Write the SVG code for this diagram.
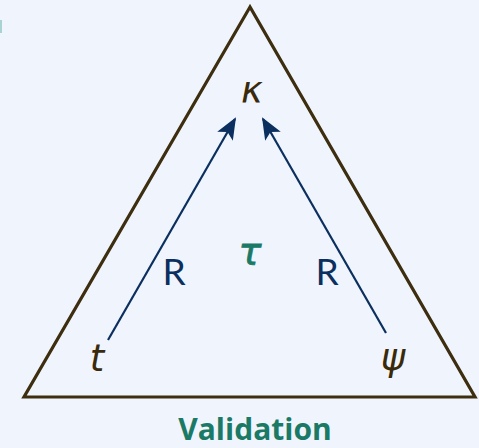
<svg xmlns="http://www.w3.org/2000/svg" width="479" height="448" viewBox="0 0 479 448">
<defs>
<style>
.edge{stroke:#0b2f5e;stroke-width:2.2;fill:none;marker-end:url(#ah)}
.var{font-family:"DejaVu Sans","Noto Sans",sans-serif;font-style:italic;font-size:37px;fill:#3a2a0c;text-anchor:middle}
.rel{font-family:Lato,"Open Sans",sans-serif;font-size:37px;fill:#0b2f5e;text-anchor:middle}
</style>
<marker id="ah" viewBox="0 0 22 18" refX="20" refY="9" markerWidth="22" markerHeight="18" markerUnits="userSpaceOnUse" orient="auto">
<path d="M0,0 L22,9 L0,18 L5,9 Z" fill="#0b2f5e"/>
</marker>
</defs>
<rect width="479" height="448" fill="#f0f5fd"/>
<rect x="0" y="20" width="2" height="13" fill="#a9d3d3"/>
<g id="triangle">
<polygon points="250,7 24,397 475,397" fill="none" stroke="#3d2e10" stroke-width="3.2" stroke-linejoin="miter"/>
</g>
<g id="connectors">
<line class="edge" x1="108" y1="340" x2="235" y2="119"/>
<line class="edge" x1="386" y1="333" x2="263" y2="119"/>
</g>
<g id="node-kappa"><text class="var" x="252" y="103">κ</text></g>
<g id="node-t"><text class="var" x="97" y="371">t</text></g>
<g id="node-psi"><text class="var" x="393" y="370">ψ</text></g>
<g id="label-tau"><text x="250" y="264" font-family="DejaVu Sans,sans-serif" font-style="italic" font-size="38" fill="#1b7a65" text-anchor="middle" stroke="#1b7a65" stroke-width="0.8">τ</text></g>
<g id="labels-R">
<text class="rel" x="174" y="285">R</text>
<text class="rel" x="327" y="285">R</text>
</g>
<g id="title"><text x="255" y="440" font-family="'Open Sans','DejaVu Sans',sans-serif" font-weight="bold" font-size="30" fill="#1b7a65" text-anchor="middle">Validation</text></g>
</svg>
